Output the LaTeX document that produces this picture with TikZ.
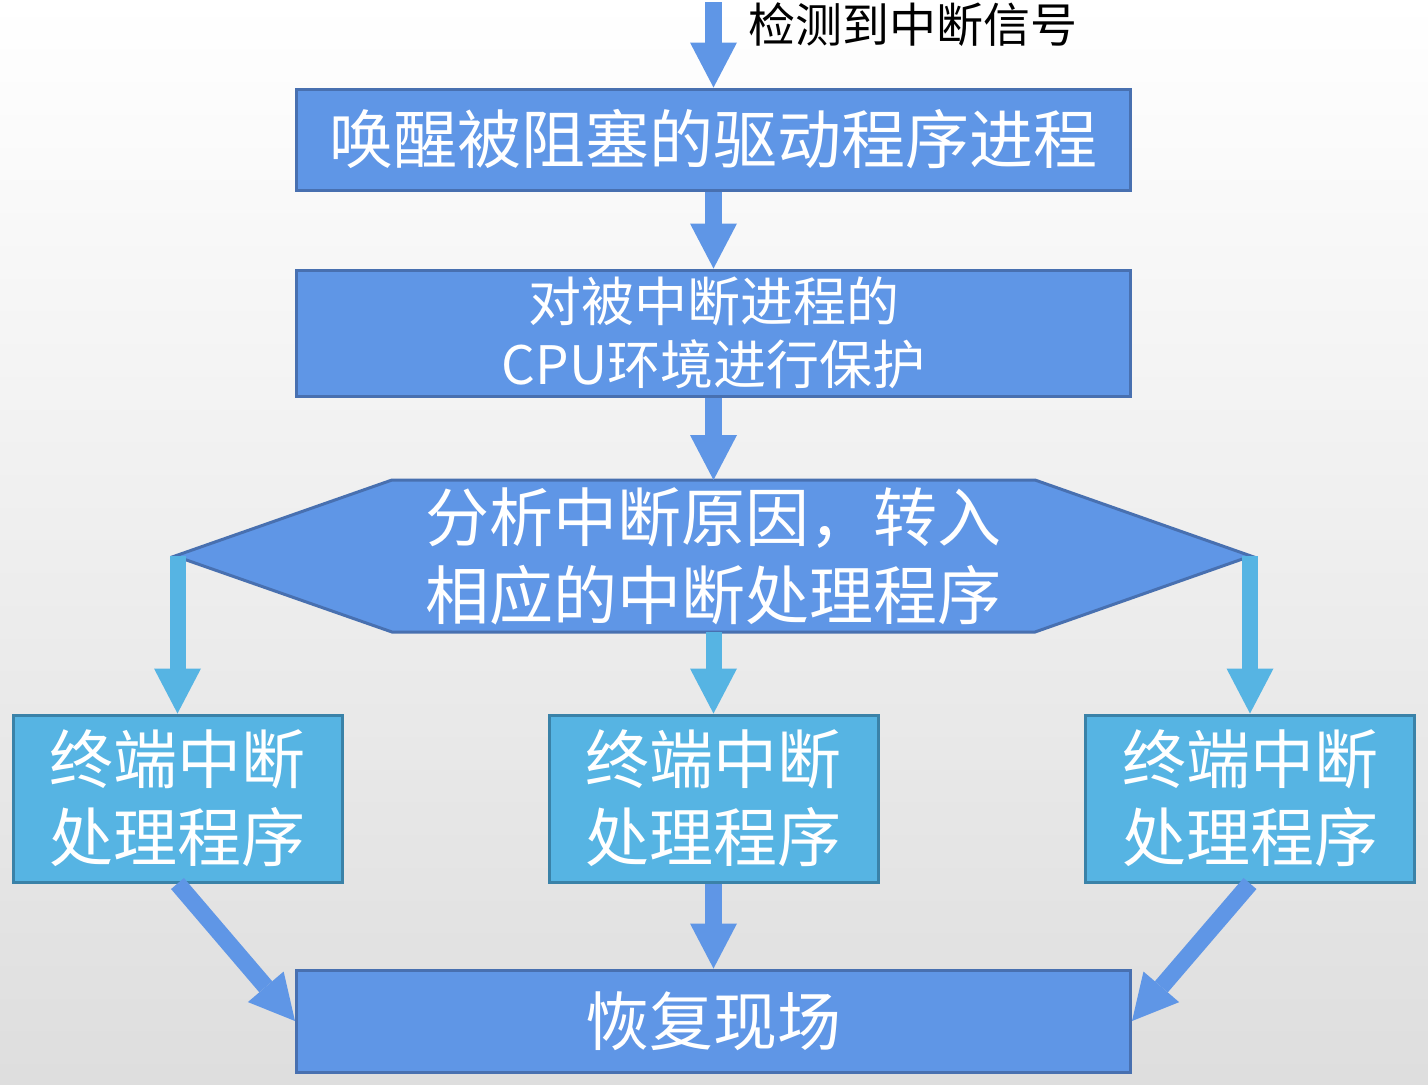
\documentclass[tikz,border=0pt]{standalone}
\usepackage{fontspec}
\setmainfont{Noto Sans CJK SC}
\newfontfamily\cjk{Noto Sans CJK SC}
\usetikzlibrary{arrows.meta}

\definecolor{boxblue}{RGB}{95,150,230}
\definecolor{boxedge}{RGB}{72,112,176}
\definecolor{skyblue}{RGB}{86,180,227}
\definecolor{skyedge}{RGB}{58,130,168}

\begin{document}
\begin{tikzpicture}[x=1pt,y=-1pt,
  mainbox/.style={draw=boxedge, line width=3pt, fill=boxblue, text=white,
    minimum width=834pt, inner sep=0pt, align=center},
  handler/.style={draw=skyedge, line width=3pt, fill=skyblue, text=white,
    minimum width=329pt, minimum height=167pt, inner sep=0pt, align=center,
    font=\cjk\fontsize{64}{78}\selectfont},
  flow/.style={line width=17pt, draw=boxblue,
    -{Triangle[width=47pt,length=45pt,line width=0pt]}},
  branch/.style={flow, draw=skyblue, line width=16pt}]

% background
\shade[top color=white, bottom color=gray!26] (0,0) rectangle (1428,1085);
\useasboundingbox (0,0) rectangle (1428,1085);

% process boxes
\node[mainbox, minimum height=101pt, font=\cjk\fontsize{64}{78}\selectfont]
  (wake) at (713.5,139.5) {唤醒被阻塞的驱动程序进程};
\node[mainbox, minimum height=126pt, font=\cjk\fontsize{53}{63}\selectfont]
  (save) at (713.5,333) {对被中断进程的\\CPU环境进行保护};

% decision hexagon
\coordinate (hexL) at (175,556);
\coordinate (hexR) at (1251,556);
\coordinate (hexB) at (713.5,632);
\filldraw[draw=boxedge, line width=3pt, fill=boxblue, line join=miter]
  (hexL) -- (392,480) -- (1035,480) -- (hexR) -- (1035,632) -- (392,632) -- cycle;
\node[text=white, align=center, font=\cjk\fontsize{64}{78}\selectfont]
  (cause) at (713.5,556) {分析中断原因，转入\\相应的中断处理程序};

% handlers
\node[handler] (h1) at (177.5,798.5) {终端中断\\处理程序};
\node[handler] (h2) at (713.5,798.5) {终端中断\\处理程序};
\node[handler] (h3) at (1250,798.5) {终端中断\\处理程序};

% restore
\node[mainbox, minimum height=102pt, font=\cjk\fontsize{64}{78}\selectfont]
  (restore) at (713.5,1021) {恢复现场};

% entry signal
\coordinate (entry) at (713.5,2);
\node[anchor=west, text=black, font=\cjk\fontsize{47}{56}\selectfont]
  (signal) at (745,25) {检测到中断信号};

% connectors
\draw[flow] (entry) -- (wake.north);
\draw[flow] (wake.south) -- (save.north);
\draw[flow] (save.south) -- (hexB |- 0,480);
\draw[branch] (177.5,556) -- (h1.north);
\draw[branch] (hexB) -- (h2.north);
\draw[branch] (1250,556) -- (h3.north);
\draw[flow] (h1.south) -- (restore.west);
\draw[flow] (h2.south) -- (restore.north);
\draw[flow] (h3.south) -- (restore.east);
\end{tikzpicture}
\end{document}
